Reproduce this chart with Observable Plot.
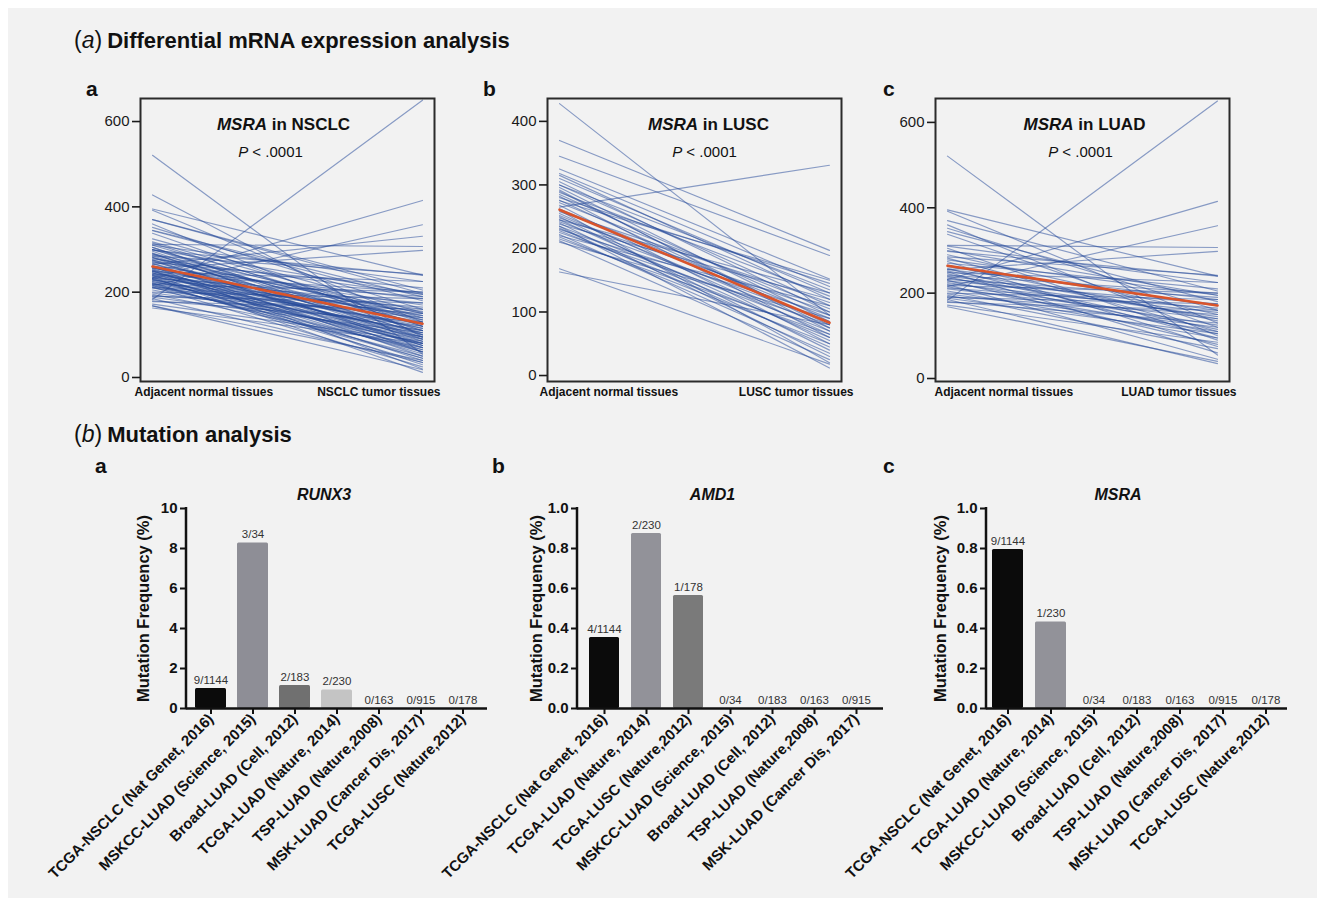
<!DOCTYPE html>
<html><head><meta charset="utf-8">
<script src="https://cdn.jsdelivr.net/npm/d3@7"></script>
<script src="https://cdn.jsdelivr.net/npm/@observablehq/plot@0.6"></script>
<style>
body{margin:0;background:#fff;width:1317px;height:898px;overflow:hidden;font-family:"Liberation Sans",Arial,sans-serif;position:relative;}
#bg{position:absolute;left:8px;top:8px;width:1309px;height:890px;background:#f2f2f2;}
.holder{position:absolute;}
.plab{position:absolute;font-weight:bold;font-size:21px;color:#111;line-height:21px;}
.head{position:absolute;font-size:23px;color:#111;white-space:nowrap;line-height:23px;}
.head b{font-weight:bold;font-size:22px;margin-left:5px;}
.barplot [aria-label="x-axis tick label"] text,.barplot [aria-label="y-axis tick label"] text{font-weight:bold;}
</style></head><body>
<div id="bg"></div>
<div class="head" style="left:74px;top:29px">(<i>a</i>)<b>Differential mRNA expression analysis</b></div>
<div class="head" style="left:74px;top:423px">(<i>b</i>)<b>Mutation analysis</b></div>
<div class="plab" style="left:86px;top:78px">a</div>
<div class="plab" style="left:483px;top:78px">b</div>
<div class="plab" style="left:883px;top:78px">c</div>
<div class="plab" style="left:95px;top:455px">a</div>
<div class="plab" style="left:492px;top:455px">b</div>
<div class="plab" style="left:883px;top:455px">c</div>
<div id="t1" class="holder" style="left:90px;top:60px"></div>
<div id="t2" class="holder" style="left:497px;top:60px"></div>
<div id="t3" class="holder" style="left:885px;top:60px"></div>
<div id="b1" class="holder barplot" style="left:30px;top:470px"></div>
<div id="b2" class="holder barplot" style="left:420px;top:470px"></div>
<div id="b3" class="holder barplot" style="left:830px;top:470px"></div>
<script>
// ---------- (a) paired expression data ----------
const gene = "MSRA";
const cohorts = ["NSCLC", "LUSC", "LUAD"];
const pValue = "P < .0001";
const adjacentLabel = "Adjacent normal tissues";

const luscAdjacent = [428,370,345,325,318,315,310,305,300,296,292,288,285,282,280,276,272,268,265,262,
  258,255,252,250,248,245,242,240,238,235,232,230,228,225,222,220,218,215,212,210,168,163,300,275,260,245,235,290];
const luscTumor = [95,197,189,152,140,120,130,100,110,85,70,125,95,60,145,80,105,50,331,90,
  115,65,75,40,100,55,85,30,120,70,45,95,60,80,35,110,50,65,25,90,18,80,135,150,20,130,12,75];

const luadAdjacent = [521,183,232,215,312,255,395,392,370,360,352,344,338,310,305,298,290,282,278,274,
  270,266,262,258,255,252,250,248,245,242,240,238,235,232,230,228,225,222,220,218,215,212,210,205,200,
  198,195,192,190,188,185,180,178,172,168,285,300];
const luadTumor = [55,650,415,358,307,298,240,130,205,100,160,180,120,225,90,240,150,110,195,75,
  210,135,170,95,185,140,60,225,115,200,160,105,145,190,80,175,125,155,45,200,110,165,140,95,185,
  120,70,150,175,105,35,130,160,85,40,242,195];

// NSCLC panel shows both cohorts together
const nsclcAdjacent = luscAdjacent.concat(luadAdjacent);
const nsclcTumor = luscTumor.concat(luadTumor);

// mean (red) lines: [adjacent, tumor]
const nsclcMean = [260, 126];
const luscMean = [261, 83];
const luadMean = [264, 171];

const yTicksNSCLC = [0, 200, 400, 600];
const yTicksLUSC = [0, 100, 200, 300, 400];
const yTicksLUAD = [0, 200, 400, 600];

// ---------- (b) mutation frequency data ----------
const yLabelMut = "Mutation Frequency (%)";
const runx3Studies = ["TCGA-NSCLC (Nat Genet, 2016)","MSKCC-LUAD (Science, 2015)","Broad-LUAD (Cell, 2012)","TCGA-LUAD (Nature, 2014)","TSP-LUAD (Nature,2008)","MSK-LUAD (Cancer Dis, 2017)","TCGA-LUSC (Nature,2012)"];
const runx3Values = [1.0, 8.28, 1.15, 0.92, 0, 0, 0];
const runx3Counts = ["9/1144","3/34","2/183","2/230","0/163","0/915","0/178"];
const runx3Colors = ["#0b0b0b","#8e8e96","#707070","#c4c4c4","#999","#999","#999"];
const runx3Ticks = [0,2,4,6,8,10];

const amd1Studies = ["TCGA-NSCLC (Nat Genet, 2016)","TCGA-LUAD (Nature, 2014)","TCGA-LUSC (Nature,2012)","MSKCC-LUAD (Science, 2015)","Broad-LUAD (Cell, 2012)","TSP-LUAD (Nature,2008)","MSK-LUAD (Cancer Dis, 2017)"];
const amd1Values = [0.355, 0.875, 0.565, 0, 0, 0, 0];
const amd1Counts = ["4/1144","2/230","1/178","0/34","0/183","0/163","0/915"];
const amd1Colors = ["#0b0b0b","#929299","#7a7a7a","#999","#999","#999","#999"];

const msraStudies = ["TCGA-NSCLC (Nat Genet, 2016)","TCGA-LUAD (Nature, 2014)","MSKCC-LUAD (Science, 2015)","Broad-LUAD (Cell, 2012)","TSP-LUAD (Nature,2008)","MSK-LUAD (Cancer Dis, 2017)","TCGA-LUSC (Nature,2012)"];
const msraValues = [0.795, 0.433, 0, 0, 0, 0, 0];
const msraCounts = ["9/1144","1/230","0/34","0/183","0/163","0/915","0/178"];
const msraColors = ["#0b0b0b","#929299","#999","#999","#999","#999","#999"];
const fracTicks = [0,0.2,0.4,0.6,0.8,1.0];

const FONT = '"Liberation Sans", Arial, Helvetica, sans-serif';

function italicize(svg, word) {
  svg.querySelectorAll("text").forEach(t => {
    if (t.children.length === 0 && t.textContent.startsWith(word) && t.textContent.length > word.length) {
      const rest = t.textContent.slice(word.length);
      t.textContent = "";
      const ns = "http://www.w3.org/2000/svg";
      const a = document.createElementNS(ns, "tspan");
      a.setAttribute("font-style", "italic");
      a.textContent = word;
      const b = document.createElementNS(ns, "tspan");
      b.textContent = rest;
      t.appendChild(a); t.appendChild(b);
    }
  });
}

function slopePanel(id, cfg) {
  const groups = ["adj", "tum"];
  const lines = cfg.adj.flatMap((a, i) => [{id: i, g: "adj", v: a}, {id: i, g: "tum", v: cfg.tum[i]}]);
  const mean = [{g: "adj", v: cfg.mean[0]}, {g: "tum", v: cfg.mean[1]}];
  const svg = Plot.plot({
    width: 354, height: 351, marginLeft: 50, marginRight: 10, marginTop: 38, marginBottom: 30,
    style: {fontFamily: FONT, background: "transparent", overflow: "visible", color: "#1a1a1a"},
    x: {type: "point", domain: groups, inset: 12, padding: 0, axis: null},
    y: {domain: cfg.yDomain, axis: null},
    marks: [
      Plot.line(lines, {x: "g", y: "v", z: "id", stroke: "#24489a", strokeOpacity: 0.52, strokeWidth: 1.15}),
      Plot.line(mean, {x: "g", y: "v", stroke: "#d9542b", strokeWidth: 2.6}),
      Plot.frame({stroke: "#2b2b2b", strokeWidth: 2}),
      Plot.axisY({ticks: cfg.ticks, tickSize: 8, tickPadding: 3, fontSize: 15, strokeWidth: 1.6, label: null}),
      Plot.text([gene + " in " + cfg.cohort], {text: d => d, frameAnchor: "top", dy: 19, dx: cfg.tdx, fontSize: 17, fontWeight: "bold", fill: "#111"}),
      Plot.text([pValue], {text: d => d, frameAnchor: "top", dy: 48, dx: cfg.pdx, fontSize: 15, fill: "#111"}),
      Plot.text([adjacentLabel], {text: d => d, frameAnchor: "bottom-left", textAnchor: "start", dx: cfg.ldx, dy: 14, fontSize: 12, fontWeight: "bold", fill: "#111"}),
      Plot.text([cfg.cohort + " tumor tissues"], {text: d => d, frameAnchor: "bottom-right", textAnchor: "end", dx: cfg.rdx, dy: 14, fontSize: 12, fontWeight: "bold", fill: "#111"})
    ]
  });
  italicize(svg, gene);
  italicize(svg, "P");
  document.getElementById(id).appendChild(svg);
}

slopePanel("t1", {cohort: cohorts[0], adj: nsclcAdjacent, tum: nsclcTumor, mean: nsclcMean, yDomain: [-9.4, 654], ticks: yTicksNSCLC, tdx: -4, pdx: -17, ldx: -6, rdx: 6});
slopePanel("t2", {cohort: cohorts[1], adj: luscAdjacent, tum: luscTumor, mean: luscMean, yDomain: [-9.4, 436], ticks: yTicksLUSC, tdx: 14, pdx: 10, ldx: -8, rdx: 12});
slopePanel("t3", {cohort: cohorts[2], adj: luadAdjacent, tum: luadTumor, mean: luadMean, yDomain: [-7, 656], ticks: yTicksLUAD, tdx: 2, pdx: -2, ldx: -1, rdx: 7});

function yAxisLine(...args) {
  const dims = args.find(a => a && typeof a === "object" && "marginLeft" in a && "marginTop" in a);
  const ns = "http://www.w3.org/2000/svg";
  const l = document.createElementNS(ns, "line");
  l.setAttribute("x1", dims.marginLeft); l.setAttribute("x2", dims.marginLeft);
  l.setAttribute("y1", dims.marginTop - 1); l.setAttribute("y2", dims.height - dims.marginBottom + 1.2);
  l.setAttribute("stroke", "#111"); l.setAttribute("stroke-width", 2.5);
  return l;
}

function barPanel(id, cfg) {
  const data = cfg.studies.map((s, i) => ({s, v: cfg.values[i], lab: cfg.counts[i], c: cfg.colors[i]}));
  const svg = Plot.plot({
    width: cfg.ml + cfg.fw + 10, height: 38 + 200 + 185,
    marginLeft: cfg.ml, marginRight: 10, marginTop: 38, marginBottom: 185,
    style: {fontFamily: FONT, background: "transparent", overflow: "visible", color: "#111"},
    x: {domain: cfg.studies, paddingInner: cfg.pi, paddingOuter: cfg.po, axis: null},
    y: {domain: [0, cfg.max], axis: null},
    color: {type: "identity"},
    marks: [
      Plot.barY(data, {x: "s", y: "v", fill: "c", rx: 1.5}),
      Plot.text(data, {x: "s", y: "v", text: "lab", lineAnchor: "bottom", dy: -5, fontSize: 11.5, fill: "#333"}),
      Plot.ruleY([0], {stroke: "#111", strokeWidth: 2.5}),
      yAxisLine,
      Plot.axisY({ticks: cfg.ticks, tickFormat: cfg.fmt, tickSize: 6, tickPadding: 3, fontSize: 15, fontWeight: "bold", strokeWidth: 2, label: null}),
      Plot.axisX({tickRotate: -45, tickSize: 6, tickPadding: 2, fontSize: 15, fontWeight: "bold", strokeWidth: 2, label: null}),
      Plot.text([cfg.gene], {text: d => d, frameAnchor: "top", dy: -20, dx: cfg.tdx, fontSize: 16, fontWeight: "bold", fontStyle: "italic", fill: "#111"}),
      Plot.text([yLabelMut], {text: d => d, frameAnchor: "left", textAnchor: "middle", rotate: -90, dx: cfg.ydx, fontSize: 16.5, fontWeight: "bold", fill: "#111"})
    ]
  });
  document.getElementById(id).appendChild(svg);
}

barPanel("b1", {gene: "RUNX3", studies: runx3Studies, values: runx3Values, counts: runx3Counts, colors: runx3Colors, max: 10, ticks: runx3Ticks, fmt: d => String(d), ml: 156, fw: 301, pi: 0.27, po: 0.16, tdx: -13, ydx: -43});
barPanel("b2", {gene: "AMD1", studies: amd1Studies, values: amd1Values, counts: amd1Counts, colors: amd1Colors, max: 1, ticks: fracTicks, fmt: d3.format(".1f"), ml: 157, fw: 306, pi: 0.28, po: 0.2, tdx: -18, ydx: -41});
barPanel("b3", {gene: "MSRA", studies: msraStudies, values: msraValues, counts: msraCounts, colors: msraColors, max: 1, ticks: fracTicks, fmt: d3.format(".1f"), ml: 156, fw: 301, pi: 0.28, po: 0.14, tdx: -19, ydx: -46});
</script>
</body></html>
